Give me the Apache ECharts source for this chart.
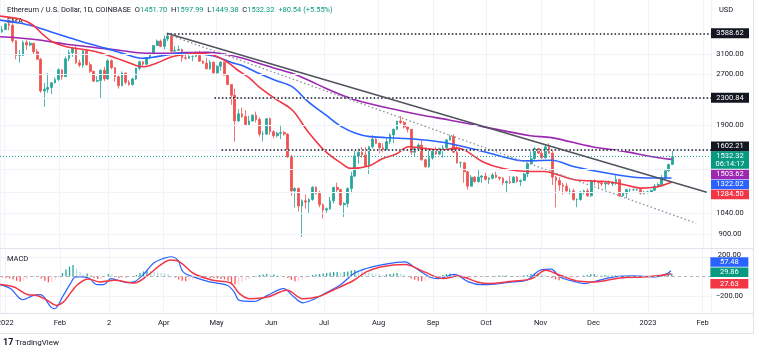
<!DOCTYPE html>
<html><head><meta charset="utf-8">
<script src="https://cdn.jsdelivr.net/npm/echarts@6/dist/echarts.min.js"></script>
<style>html,body{margin:0;padding:0;background:#fff}#c{width:760px;height:354px}</style>
</head><body><div id="c"></div>
<script>
// ---- DATA (days are counted from 2022-01-01; candles are 2-day periods starting 2021-12-30) ----
const periodStartDay = -2;
const firstOpen = 3630;
const closes = [
3680,3830,3790,3410,3080,3080,3370,3310,3350,3160,
3000,2410,2440,2470,2550,2610,2790,2660,3010,3140,
3240,2930,2880,3180,2890,2760,2580,2590,2780,2620,
2970,2830,2660,2500,2730,2560,2520,2620,2820,2950,
2900,3030,3110,3300,3400,3280,3450,3520,3170,3190,
3210,3030,3020,3060,3060,3080,2960,2920,2810,2940,
2730,2860,2940,2690,2520,2340,1960,2060,2020,1910,
1960,2040,1980,1790,1790,1990,1820,1770,1800,1810,
1790,1530,1210,1230,1090,1130,1120,1140,1240,1190,
1100,1060,1070,1130,1240,1220,1100,1110,1230,1340,
1540,1580,1550,1440,1640,1730,1680,1630,1610,1700,
1780,1850,1960,1940,1880,1850,1580,1620,1660,1500,
1430,1520,1590,1560,1620,1630,1720,1760,1580,1470,
1470,1380,1250,1330,1290,1330,1340,1310,1320,1350,
1330,1320,1280,1290,1280,1330,1290,1300,1360,1460,
1510,1620,1570,1520,1640,1570,1330,1300,1260,1250,
1210,1210,1140,1140,1200,1210,1170,1300,1290,1280,
1270,1280,1270,1280,1310,1170,1190,1220,1220,1220,
1220,1190,1200,1200,1215,1250,1265,1320,1390,1451.7,
1532.32];
const highs = [
3770,3860,3880,3850,3420,3200,3410,3420,3390,3360,
3220,3030,2550,2730,2560,2650,2820,2800,3060,3200,
3270,3280,2990,3200,3190,2950,2770,2670,2800,2850,
3000,3000,2840,2680,2760,2730,2600,2640,2830,2970,
2960,3040,3140,3300,3440,3440,3530,3580,3550,3290,
3300,3230,3140,3090,3080,3170,3180,2980,3030,2980,
2950,2880,2960,2950,2700,2520,2450,2130,2150,2110,
2030,2050,2090,2010,1830,2000,2010,1840,1820,1910,
1830,1800,1550,1240,1240,1140,1180,1150,1250,1250,
1210,1110,1080,1160,1240,1280,1230,1120,1240,1380,
1600,1620,1640,1640,1650,1780,1750,1690,1680,1750,
1800,1860,1960,2030,1960,1880,1850,1640,1680,1720,
1510,1610,1610,1640,1630,1660,1730,1780,1790,1650,
1480,1470,1390,1350,1340,1400,1350,1370,1330,1370,
1380,1330,1330,1300,1340,1340,1340,1310,1370,1470,
1590,1640,1630,1610,1670,1680,1600,1340,1330,1280,
1280,1230,1230,1150,1210,1220,1230,1300,1310,1290,
1300,1290,1300,1290,1350,1310,1200,1230,1230,1230,
1230,1230,1210,1210,1220,1270,1280,1350,1400,1460,
1597.99];
const lows = [
3600,3680,3660,3360,3000,2930,3070,3200,3280,3100,
2990,2380,2160,2380,2360,2540,2580,2600,2660,2960,
3050,2900,2840,2830,2870,2730,2570,2560,2300,2580,
2600,2800,2570,2450,2490,2520,2500,2500,2600,2780,
2850,2880,3000,3100,3290,3260,3210,3400,3150,3170,
3180,2950,2990,3010,2960,3050,2950,2900,2800,2790,
2720,2720,2770,2680,2510,2190,1700,1950,2000,1900,
1910,1950,1940,1760,1700,1780,1780,1740,1750,1730,
1770,1520,1170,1080,1050,880,1070,1040,1130,1180,
1080,1000,1040,1060,1110,1200,1090,1010,1080,1190,
1330,1460,1520,1430,1360,1620,1670,1570,1580,1600,
1670,1680,1840,1920,1860,1810,1550,1540,1600,1490,
1420,1420,1500,1550,1550,1520,1610,1710,1570,1460,
1420,1280,1220,1250,1280,1280,1280,1300,1270,1310,
1320,1300,1260,1190,1270,1280,1280,1250,1300,1330,
1460,1500,1560,1510,1510,1560,1260,1080,1210,1180,
1190,1180,1130,1080,1130,1180,1160,1160,1260,1230,
1250,1220,1260,1250,1260,1160,1160,1150,1200,1210,
1210,1180,1180,1190,1195,1210,1240,1260,1310,1380,
1449.38];
const histVals = [
-10,-15,-20,-30,-45,-55,-45,-25,-5,5,
0,-20,-45,-60,-55,-30,5,35,70,100,
115,80,45,20,30,10,-15,-25,-20,-5,
25,20,-5,-15,-10,-10,-5,5,15,35,
50,60,55,50,40,35,30,25,10,-10,
-30,-45,-50,-40,-30,-20,-15,-15,-10,-15,
-15,-20,-25,-30,-45,-65,-80,-75,-60,-40,
-25,-10,5,15,20,25,20,20,15,10,
5,-15,-35,-50,-45,-35,-15,5,15,20,
25,30,35,40,45,45,40,45,50,60,
65,60,55,45,40,35,30,20,15,20,
25,30,35,30,20,5,-20,-35,-45,-50,
-45,-30,-15,-5,5,15,25,30,20,5,
-10,-20,-25,-20,-15,-10,-5,-5,0,5,
5,10,10,10,5,5,5,5,10,15,
25,30,30,25,15,5,-15,-30,-40,-35,
-30,-20,-15,-10,0,10,15,25,25,20,
15,15,10,10,10,0,-5,-5,0,0,
0,-3,-3,-2,2,5,10,15,20,25,
29.86];
// EMA lines: [day, price]
const redEma = [[-3,4043],[9,3952],[16,3800],[22,3547],[27,3387],[35,3272],[47,3198],[54,3139],[61,3054],[69,2950],[75,2870],[79,2850],[86,2918],[94,3041],[100,3090],[109,3126],[118,3090],[126,2950],[132,2786],[139,2631],[144,2483],[153,2292],[163,2114],[172,1821],[182,1586],[191,1463],[196,1414],[207,1440],[214,1510],[222,1560],[229,1640],[238,1622],[248,1605],[256,1625],[261,1600],[271,1480],[282,1414],[298,1383],[306,1383],[314,1350],[323,1306],[342,1289],[352,1260],[361,1233],[370,1245],[378,1284.5]];
const blueEma = [[-3,3933],[7,3861],[16,3774],[26,3628],[35,3505],[44,3387],[54,3272],[64,3161],[73,3054],[78,3020],[84,3041],[92,3090],[101,3126],[111,3111],[120,3054],[130,2918],[135,2870],[144,2724],[153,2601],[163,2483],[172,2239],[182,2043],[191,1885],[199,1801],[207,1759],[224,1740],[243,1707],[256,1661],[275,1568],[290,1497],[298,1488],[310,1495],[323,1429],[342,1366],[361,1325],[378,1322.02]];
const purpleEma = [[-3,3505],[7,3481],[16,3443],[26,3387],[35,3326],[44,3288],[54,3236],[64,3198],[73,3148],[82,3126],[92,3126],[101,3139],[115,3148],[125,3105],[135,3020],[144,2918],[153,2819],[163,2724],[172,2601],[182,2456],[191,2345],[199,2266],[218,2139],[236,2043],[252,1974],[271,1885],[298,1771],[310,1747],[333,1641],[352,1586],[367,1532],[378,1503.62]];
const trendSolid = [[92,3588.62],[398,1199]];
const trendDotted = [[95,3522],[392,968]];
const levelValues = [3588.62, 2300.84, 1602.21];
const levelStartDays = [92, 119, 123];
const lastPrice = 1532.32;
const countdown = '06:14:17';
const priceTickLabels = [3100, 2700, 1900, 1040, 900];
const priceGridValues = [3100, 2700, 2300, 1900, 1600, 1400, 1200, 1040, 900];
const emaLast = [1503.62, 1322.02, 1284.50];
const macdLine = [[-3,-83],[3,-124],[10,-237],[16,-193],[20,-186],[26,-313],[28,-329],[33,-193],[37,-73],[40,-5],[44,-5],[48,-22],[52,-83],[56,-83],[60,-22],[64,-39],[69,-63],[73,-56],[79,30],[84,132],[90,184],[94,200],[98,166],[101,46],[107,-5],[116,-56],[126,-90],[130,-159],[133,-244],[141,-254],[149,-193],[158,-124],[164,-210],[169,-268],[175,-234],[183,-159],[190,-90],[198,30],[205,81],[213,115],[227,149],[232,97],[241,-5],[246,-22],[255,20],[263,-56],[270,-83],[274,-83],[288,-56],[296,-39],[304,64],[310,74],[315,-5],[324,-56],[329,-73],[335,-49],[346,-5],[357,5],[368,-5],[376,30],[378,57.48]];
const signalLine = [[-3,-83],[5,-108],[13,-186],[18,-193],[24,-244],[29,-295],[33,-262],[37,-170],[41,-85],[47,-25],[54,-56],[62,-39],[73,-67],[81,12],[88,115],[94,166],[99,149],[107,30],[118,-39],[128,-67],[133,-175],[139,-227],[149,-210],[160,-141],[169,-227],[177,-210],[186,-141],[198,-39],[205,46],[213,97],[227,122],[238,46],[249,-22],[257,5],[268,-56],[274,-73],[288,-49],[299,-22],[307,64],[315,12],[326,-49],[335,-56],[349,-15],[362,-5],[373,12],[378,27.63]];
const macdLast = [57.48, 29.86, 27.63];
const macdTickLabels = [200, -200];
const monthLabels = ['', 'Feb', '2', 'Apr', 'May', 'Jun', 'Jul', 'Aug', 'Sep', 'Oct', 'Nov', 'Dec'];
const firstYearLabel = '2022';

// ---- helpers ----
const DAY = 86400000;
const T0 = new Date(2022, 0, 1).getTime();
const t = d => T0 + d * DAY;
const xMin = t(-2.6), xMax = t(400.4);
const FONT = 'Roboto, "Noto Sans", sans-serif';
const UP = '#26a69a', DOWN = '#ef5350';
const RED = '#f23645', BLUE = '#2962ff', PURPLE = '#9c27b0', TEAL = '#089981';

const periodTime = i => t(periodStartDay + 2 * i + 0.5);
const candles = closes.map((c, i) => [periodTime(i), i === 0 ? firstOpen : closes[i - 1], c, lows[i], highs[i]]);
const toXY = arr => arr.map(p => [t(p[0]), p[1]]);

function box(value, text, bg, dy, h, fg) {
  return {
    coord: [xMax, value], symbol: 'rect', symbolSize: [38, h || 10], symbolOffset: [19, dy || 0],
    itemStyle: { color: bg },
    label: { show: true, position: 'inside', formatter: text, color: fg || '#fff', fontSize: 7.5, fontFamily: FONT, lineHeight: 8.5 }
  };
}
const fmt = v => (v < 0 ? '\u2212' : '') + Math.abs(v).toFixed(2);

const mainLabels = [];
priceTickLabels.forEach(v => mainLabels.push(box(v, fmt(v), 'rgba(0,0,0,0)', 0, 10, '#131722')));
levelValues.forEach((v, i) => mainLabels.push(box(v, fmt(v), '#131722', i === 2 ? -3.8 : 0)));
mainLabels.push(box(lastPrice, fmt(lastPrice) + '\n' + countdown, TEAL, 3.3, 17.5));
mainLabels.push(box(emaLast[0], fmt(emaLast[0]), PURPLE, 15.1, 9.6));
mainLabels.push(box(emaLast[1], fmt(emaLast[1]), BLUE, 6.4, 9.6));
mainLabels.push(box(emaLast[2], fmt(emaLast[2]), RED, 12.2, 9.6));

const macdLabels = [
  box(macdTickLabels[0], fmt(macdTickLabels[0]), 'rgba(0,0,0,0)', -2, 9, '#131722'),
  box(macdTickLabels[1], fmt(macdTickLabels[1]), 'rgba(0,0,0,0)', 0, 9, '#131722'),
  box(macdLast[0], fmt(macdLast[0]), BLUE, -8.8, 9.4),
  box(macdLast[1], fmt(macdLast[1]), TEAL, -1.2, 9.4),
  box(macdLast[2], fmt(macdLast[2]), RED, 10, 9.4)
];

const levelLines = levelValues.map((v, i) => [
  { coord: [t(levelStartDays[i]), v], lineStyle: { color: '#131722', type: [1.5, 2.2], width: 1.5 } },
  { coord: [xMax, v] }
]);
levelLines.push([
  { coord: [xMin, lastPrice], lineStyle: { color: UP, type: [1, 2], width: 1 } },
  { coord: [xMax, lastPrice] }
]);

const chart = echarts.init(document.getElementById('c'), null, { renderer: 'canvas' });
const gridLine = { show: true, lineStyle: { color: '#f0f3fa', width: 1 } };

const graphics = [
  { type: 'text', x: 7, y: 10, z: 10, style: { verticalAlign: 'middle', fontFamily: FONT, fontSize: 7.5, fill: '#131722',
    text: '{t|Ethereum / U.S. Dollar, 1D, COINBASE}  {k|O}{v|1451.70}  {k|H}{v|1597.99}  {k|L}{v|1449.38}  {k|C}{v|1532.32}  {v|+80.54 (+5.55%)}',
    rich: { t: { fill: '#131722', fontSize: 7.5, fontFamily: FONT }, k: { fill: '#131722', fontSize: 7.5, fontFamily: FONT }, v: { fill: TEAL, fontSize: 7.5, fontFamily: FONT } } } },
  { type: 'text', x: 719, y: 10, z: 10, style: { verticalAlign: 'middle', text: 'USD', fontFamily: FONT, fontSize: 7.5, fill: '#131722' } },
  { type: 'text', x: 7, y: 21, z: 0, style: { verticalAlign: 'middle', text: 'EMA', fontFamily: FONT, fontSize: 7.5, fill: '#131722' } },
  { type: 'text', x: 7, y: 259, z: 10, style: { verticalAlign: 'middle', text: 'MACD', fontFamily: FONT, fontSize: 7.5, fill: '#131722' } },
  { type: 'text', x: 3, y: 343, z: 10, style: { verticalAlign: 'middle', text: '17', fontFamily: FONT, fontSize: 9, fontWeight: 'bold', fill: '#131722' } },
  { type: 'text', x: 15, y: 343, z: 10, style: { verticalAlign: 'middle', text: 'TradingView', fontFamily: FONT, fontSize: 8, fill: '#131722' } },
  { type: 'line', z: 10, shape: { x1: 0, y1: 248.5, x2: 753.5, y2: 248.5 }, style: { stroke: '#e0e3eb', lineWidth: 1 } },
  { type: 'line', z: 10, shape: { x1: 0, y1: 313.5, x2: 753.5, y2: 313.5 }, style: { stroke: '#e0e3eb', lineWidth: 1 } },
  { type: 'line', z: 10, shape: { x1: 0, y1: 333.5, x2: 753.5, y2: 333.5 }, style: { stroke: '#e0e3eb', lineWidth: 1 } },
  { type: 'line', z: 10, shape: { x1: 753.5, y1: 0, x2: 753.5, y2: 333.5 }, style: { stroke: '#e0e3eb', lineWidth: 1 } }
];

chart.setOption({
  animation: false,
  backgroundColor: '#ffffff',
  textStyle: { fontFamily: FONT },
  grid: [
    { left: 0, top: 0, width: 711, height: 248 },
    { left: 0, top: 249, width: 711, height: 64 }
  ],
  xAxis: [
    { type: 'time', gridIndex: 0, min: xMin, max: xMax, splitNumber: 13,
      axisLine: { show: false }, axisTick: { show: false }, axisLabel: { show: false }, splitLine: gridLine },
    { type: 'time', gridIndex: 1, min: xMin, max: xMax, splitNumber: 13,
      axisLine: { show: false }, axisTick: { show: false }, splitLine: gridLine,
      axisLabel: { show: true, color: '#131722', fontSize: 7.5, fontFamily: FONT, margin: 6, hideOverlap: false,
        formatter: function (val) {
          const d = new Date(val);
          if (d.getDate() !== 1 || d.getHours() !== 0) return '';
          const m = d.getMonth();
          if (m === 0) return d.getFullYear() === 2022 ? '' : String(d.getFullYear());
          return monthLabels[m];
        } } }
  ],
  yAxis: [
    { type: 'log', gridIndex: 0, position: 'right', min: 816, max: 4515, logBase: 10,
      axisLine: { show: false }, axisTick: { show: false }, axisLabel: { show: false }, splitLine: { show: false } },
    { type: 'value', gridIndex: 1, position: 'right', min: -372, max: 279,
      axisLine: { show: false }, axisTick: { show: false, customValues: macdTickLabels },
      axisLabel: { show: false },
      splitLine: gridLine }
  ],
  series: [
    { type: 'line', xAxisIndex: 0, yAxisIndex: 0, data: [], z: 1, silent: true,
      markLine: { silent: true, symbol: ['none', 'none'], label: { show: false },
        lineStyle: { color: '#f0f3fa', width: 1, type: 'solid' },
        data: priceGridValues.map(v => ({ yAxis: v })) } },
    { type: 'candlestick', xAxisIndex: 0, yAxisIndex: 0, data: candles, barWidth: 2.2, z: 3,
      encode: { x: 0, y: [1, 2, 3, 4] },
      itemStyle: { color: UP, color0: DOWN, borderColor: UP, borderColor0: DOWN, borderWidth: 0.8 } },
    { type: 'line', name: 'EMA200', xAxisIndex: 0, yAxisIndex: 0, data: toXY(purpleEma), smooth: 0.35, showSymbol: false, z: 4,
      lineStyle: { color: PURPLE, width: 1.6 } },
    { type: 'line', name: 'EMA100', xAxisIndex: 0, yAxisIndex: 0, data: toXY(blueEma), smooth: 0.35, showSymbol: false, z: 4,
      lineStyle: { color: BLUE, width: 1.6 } },
    { type: 'line', name: 'EMA50', xAxisIndex: 0, yAxisIndex: 0, data: toXY(redEma), smooth: 0.35, showSymbol: false, z: 4,
      lineStyle: { color: RED, width: 1.6 } },
    { type: 'line', xAxisIndex: 0, yAxisIndex: 0, data: toXY(trendSolid), showSymbol: false, z: 5,
      lineStyle: { color: '#50535e', width: 1.5 } },
    { type: 'line', xAxisIndex: 0, yAxisIndex: 0, data: toXY(trendDotted), showSymbol: false, z: 5,
      lineStyle: { color: '#8a8d96', width: 1.3, type: [1.5, 2.5] } },
    { type: 'line', xAxisIndex: 0, yAxisIndex: 0, data: [], z: 6, clip: false, silent: true,
      markLine: { silent: true, symbol: ['none', 'none'], label: { show: false }, data: levelLines },
      markPoint: { silent: true, data: mainLabels } },
    { type: 'bar', xAxisIndex: 1, yAxisIndex: 1, barWidth: 1.3, z: 2,
      data: histVals.map((v, i) => [periodTime(i), v]),
      itemStyle: { color: function (p) {
        const v = histVals[p.dataIndex], prev = p.dataIndex > 0 ? histVals[p.dataIndex - 1] : v;
        if (v >= 0) return v >= prev ? '#26a69a' : '#b2dfdb';
        return v <= prev ? '#ff5252' : '#ffcdd2';
      } } },
    { type: 'line', xAxisIndex: 1, yAxisIndex: 1, data: toXY(macdLine), smooth: 0.35, showSymbol: false, z: 4,
      lineStyle: { color: BLUE, width: 1.2 } },
    { type: 'line', xAxisIndex: 1, yAxisIndex: 1, data: toXY(signalLine), smooth: 0.35, showSymbol: false, z: 4,
      lineStyle: { color: RED, width: 1.5 } },
    { type: 'line', xAxisIndex: 1, yAxisIndex: 1, data: [], z: 6, clip: false, silent: true,
      markLine: { silent: true, symbol: ['none', 'none'], label: { show: false },
        lineStyle: { color: '#b2b5be', width: 1, type: [3, 3] }, data: [{ yAxis: 0 }] },
      markPoint: { silent: true, data: macdLabels } }
  ],
  graphic: graphics
});

// The first year label sits on the Jan-1 tick and is cut by the left edge, as in the original.
const janX = chart.convertToPixel({ xAxisIndex: 1 }, T0);
graphics.push({ type: 'text', x: janX, y: 323, z: 10,
  style: { align: 'center', verticalAlign: 'middle', text: firstYearLabel, fontFamily: FONT, fontSize: 7.5, fill: '#131722' } });
chart.setOption({ graphic: graphics });
</script>
</body></html>
